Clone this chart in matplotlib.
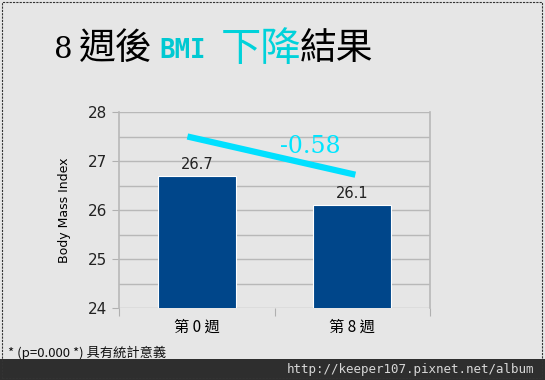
import matplotlib
matplotlib.use('Agg')
import matplotlib.pyplot as plt
from matplotlib.patches import Rectangle

plt.rcParams['font.family'] = ['Noto Sans CJK TC', 'DejaVu Sans']

# data
weeks = ['第 0 週', '第 8 週']
bmi = [26.7, 26.1]
trend = [27.5, 26.72]
trend_x = [-0.06, 1.02]
diff_label = '-0.58'
note = '* (p=0.000 *) 具有統計意義'
url = 'http://keeper107.pixnet.net/album'

W, H = 545, 380
bg = '#e6e6e6'
fig = plt.figure(figsize=(W / 100, H / 100), dpi=100, facecolor=bg)

ax = fig.add_axes([119 / W, 1 - 308 / H, (430 - 119) / W, (308 - 112) / H])
ax.set_facecolor(bg)
x = range(len(weeks))
ax.bar(x, bmi, width=0.5, color='#00468a', edgecolor='white', linewidth=0.8, zorder=3)
for i, v in enumerate(bmi):
    ax.text(i, v + 0.08, f'{v}', ha='center', va='bottom', fontsize=10.5,
            family='DejaVu Sans', color='#222222')
ax.plot(trend_x, trend, color='#00e0ff', linewidth=4.5, solid_capstyle='butt', zorder=4)
ax.text(0.73, 27.3, diff_label, color='#00e5ff', fontsize=17, family='DejaVu Serif',
        ha='center', va='center')

ax.set_xlim(-0.5, 1.5)
ax.set_ylim(24, 28)
ax.set_yticks([24, 25, 26, 27, 28])
ax.set_yticks([24.5, 25.5, 26.5, 27.5], minor=True)
ax.set_xticks([-0.5, 0.5, 1.5])
ax.set_xticklabels([])
ax.set_xticks(list(x), minor=True)
ax.set_xticklabels(weeks, minor=True, fontsize=11)
ax.tick_params(axis='x', which='minor', length=0, pad=8)
ax.tick_params(axis='x', which='major', length=6, color='#b0b0b0', direction='out')
ax.tick_params(axis='y', which='major', length=5, color='#b0b0b0', labelsize=11,
               labelcolor='#222222')
ax.tick_params(axis='y', which='minor', length=0)
for lbl in ax.get_yticklabels():
    lbl.set_family('DejaVu Sans')
ax.grid(axis='y', which='both', color='#b8b8b8', linewidth=1, zorder=0)
for s in ['top', 'bottom']:
    ax.spines[s].set_visible(False)
for s in ['left', 'right']:
    ax.spines[s].set_color('#b8b8b8')
    ax.spines[s].set_linewidth(1.2)
ax.set_ylabel('Body Mass Index', fontsize=9, family='DejaVu Sans', labelpad=12)

# title in pieces: (x, baseline y, text, colour, family, weight, size)
pieces = [(54, 58, '8', 'black', 'DejaVu Serif', 'normal', 21),
          (79, 59, '週後', 'black', 'Noto Sans CJK TC', 'light', 26.5),
          (159, 58, 'BMI', '#00c9d2', 'DejaVu Sans Mono', 'bold', 18.5),
          (221, 61, '下降', '#00d2da', 'Noto Sans CJK TC', 'light', 29),
          (300, 59, '結果', 'black', 'Noto Sans CJK TC', 'light', 26.5)]
for xp, yp, s, c, fam, wt, fs in pieces:
    fig.text(xp / W, 1 - yp / H, s, color=c, family=fam, weight=wt, fontsize=fs,
             va='baseline', ha='left')

fig.text(8 / W, 1 - 353 / H, note, fontsize=9.5, va='center', ha='left', color='#111111')

# footer band and border
fig.patches.append(Rectangle((0, 0), 1, 21 / H, transform=fig.transFigure,
                             facecolor='#2e2e2e', edgecolor='none', zorder=5))
fig.text(534 / W, 1 - 369 / H, url, family='DejaVu Sans Mono', fontsize=9,
         color='#d8d8d8', ha='right', va='center', zorder=6)
fig.patches.append(Rectangle((2 / W, 2 / H), (W - 5) / W, (H - 4) / H, transform=fig.transFigure,
                             facecolor='none', edgecolor='#333333', linestyle=(0, (2, 1)),
                             linewidth=0.8, zorder=7))

fig.savefig('out.png', dpi=100, facecolor=bg)
